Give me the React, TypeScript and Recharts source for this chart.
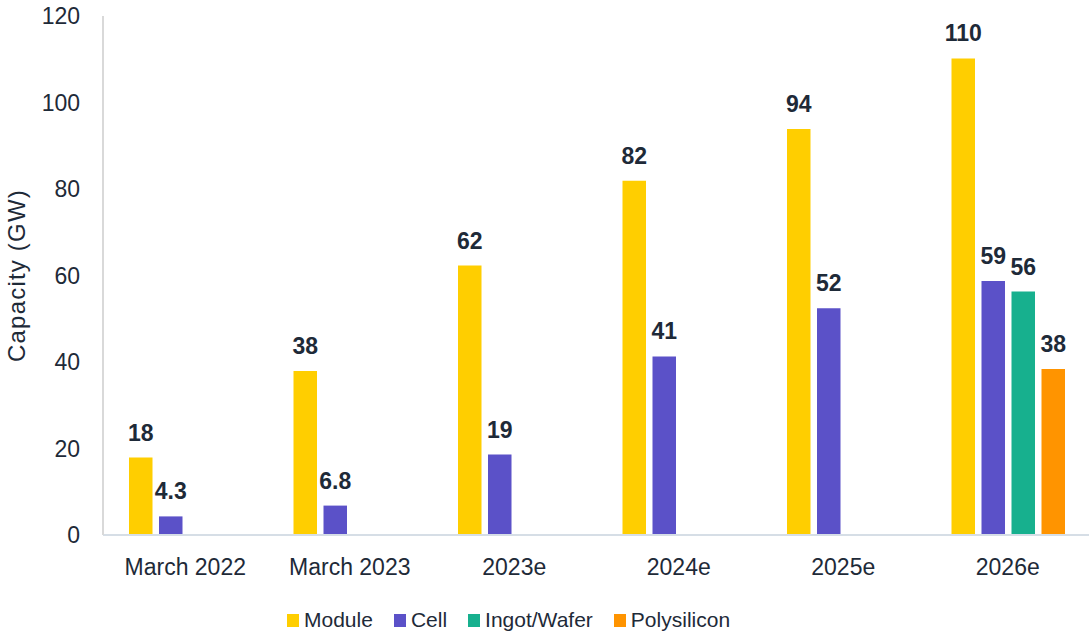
import { BarChart, Bar, XAxis, YAxis, Legend, LabelList, Label } from "recharts";

const categories = ["March 2022", "March 2023", "2023e", "2024e", "2025e", "2026e"];
const moduleValues = [17.9, 37.9, 62.3, 81.9, 93.9, 110.2];
const cellValues = [4.3, 6.8, 18.6, 41.3, 52.4, 58.7];
const ingotValues = [null, null, null, null, null, 56.3];
const polyValues = [null, null, null, null, null, 38.4];
const yTicks = [0, 20, 40, 60, 80, 100, 120];

const SERIES = [
  { key: "module", name: "Module", color: "#FFCE00" },
  { key: "cell", name: "Cell", color: "#5B51C8" },
  { key: "ingot", name: "Ingot/Wafer", color: "#17B08E" },
  { key: "poly", name: "Polysilicon", color: "#FF9400" },
];

const TEXT = "#1E2A38";
const FONT = "Liberation Sans, Arial, sans-serif";

const data = categories.map((name, i) => ({
  name,
  module: moduleValues[i],
  cell: cellValues[i],
  ingot: ingotValues[i],
  poly: polyValues[i],
}));

const fmt = (v: any) => {
  if (v == null) return "";
  return v < 10 ? Number(v).toFixed(1) : String(Math.round(v));
};

function YTitle({ viewBox }: any) {
  const cx = 16;
  const cy = viewBox.y + viewBox.height / 2;
  return (
    <text
      x={cx}
      y={cy}
      dy="0.355em"
      textAnchor="middle"
      transform={`rotate(-90, ${cx}, ${cy})`}
      fill={TEXT}
      fontSize={24}
      letterSpacing={1.2}
      fontFamily={FONT}
    >
      Capacity (GW)
    </text>
  );
}

function LegendContent() {
  return (
    <div style={{ display: "flex", alignItems: "center", fontFamily: FONT }}>
      {SERIES.map((s) => (
        <div key={s.key} style={{ display: "flex", alignItems: "center", marginRight: 21 }}>
          <span style={{ width: 12, height: 13, background: s.color, marginRight: 5, display: "inline-block" }} />
          <span style={{ fontSize: 21, color: TEXT }}>{s.name}</span>
        </div>
      ))}
    </div>
  );
}

export default function App() {
  return (
    <div style={{ position: "absolute", left: 0, top: 0, width: 1089, height: 635, overflow: "hidden", background: "#fff" }}>
      <BarChart
        width={1090}
        height={635}
        data={data}
        margin={{ top: 16, right: 0, left: 0, bottom: 30 }}
        barGap={6.5}
        barSize={23.5}
      >
        <XAxis
          dataKey="name"
          axisLine={{ stroke: "#D6DEE6", strokeWidth: 2 }}
          tickLine={false}
          tickSize={0}
          tickMargin={24}
          height={40}
          interval={0}
          tick={{ fill: TEXT, fontSize: 23, fontFamily: FONT }}
        />
        <YAxis
          width={103}
          domain={[0, 120]}
          ticks={yTicks}
          axisLine={{ stroke: "#D9D9D9", strokeWidth: 2 }}
          tickLine={false}
          tickSize={0}
          tickMargin={23}
          tick={{ fill: TEXT, fontSize: 23, fontFamily: FONT }}
        >
          <Label content={<YTitle />} />
        </YAxis>
        <Legend
          content={<LegendContent />}
          wrapperStyle={{ top: 608, left: 287, bottom: "auto", width: "auto", height: 30 }}
        />
        {SERIES.map((s) => (
          <Bar key={s.key} dataKey={s.key} name={s.name} fill={s.color} isAnimationActive={false}>
            <LabelList
              dataKey={s.key}
              position="top"
              offset={17}
              formatter={fmt}
              fill={TEXT}
              fontSize={23}
              fontWeight="bold"
              fontFamily={FONT}
            />
          </Bar>
        ))}
      </BarChart>
    </div>
  );
}
